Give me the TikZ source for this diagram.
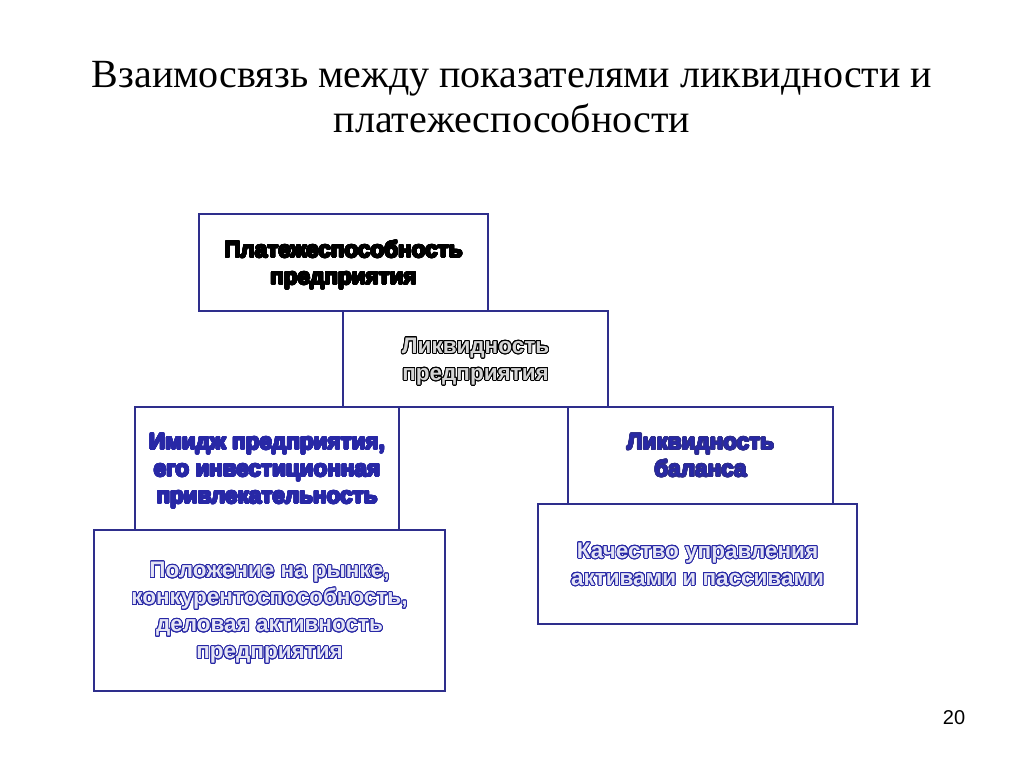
\documentclass[tikz,border=0pt]{standalone}
\usepackage{fontspec}
\setmainfont{Liberation Serif}
\setsansfont{Liberation Sans}
\usepackage{contour}
\usepackage{tikz}

\contourlength{0.9pt}
\contournumber{24}

\definecolor{ramka}{HTML}{2E2E8C}
\definecolor{sinij}{HTML}{2828A6}
\definecolor{svetlo}{HTML}{E4E4F4}
\definecolor{seryj}{HTML}{D4D4D4}

\tikzset{
  blok/.style={draw=ramka, line width=2.6pt, fill=white, inner sep=0pt, align=center,
    text depth=0pt, font=\sffamily\bfseries\fontsize{22.5}{27}\selectfont},
}

% контурный текст: цвет контура, цвет заливки, текст
\newcommand{\kontur}[3]{{\color{#2}\contour{#1}{#3}}}

\begin{document}
\begin{tikzpicture}[x=1pt,y=-1pt]
\useasboundingbox (0,0) rectangle (1024,767);

% Заголовок
\node[font=\fontsize{40}{45}\selectfont, align=center] (zag) at (512,97)
  {Взаимосвязь между показателями ликвидности и\\платежеспособности};

% Верхние блоки
\node[blok, minimum width=289, minimum height=97] (plat) at (343.5,262.5)
  {\kontur{black}{black}{Платежеспособность}\\\kontur{black}{black}{предприятия}};
\node[blok, minimum width=265, minimum height=96] (likv) at (475.5,359)
  {\kontur{black}{seryj}{Ликвидность}\\\kontur{black}{seryj}{предприятия}};

% Левая ветвь
\node[blok, minimum width=264, minimum height=123] (imidzh) at (267,468.5)
  {\kontur{sinij}{sinij}{Имидж предприятия,}\\\kontur{sinij}{sinij}{его инвестиционная}\\
   \kontur{sinij}{sinij}{привлекательность}};
\node[blok, minimum width=351, minimum height=161] (polozh) at (269.5,610.5)
  {\kontur{sinij}{svetlo}{Положение на рынке,}\\\kontur{sinij}{svetlo}{конкурентоспособность,}\\
   \kontur{sinij}{svetlo}{деловая активность}\\\kontur{sinij}{svetlo}{предприятия}};

% Правая ветвь
\node[blok, minimum width=265, minimum height=97] (balans) at (700.5,455.5)
  {\kontur{ramka}{sinij}{Ликвидность}\\\kontur{ramka}{sinij}{баланса}};
\node[blok, minimum width=319, minimum height=120] (kach) at (697.5,564)
  {\kontur{sinij}{svetlo}{Качество управления}\\\kontur{sinij}{svetlo}{активами и пассивами}};

% Номер слайда
\node[font=\sffamily\fontsize{20}{24}\selectfont] (nomer) at (954,718) {20};

\end{tikzpicture}
\end{document}
